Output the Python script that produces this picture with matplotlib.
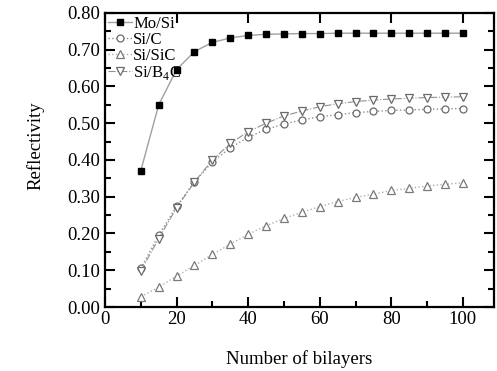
import numpy as np
import matplotlib
matplotlib.use('Agg')
import matplotlib.pyplot as plt
from matplotlib.ticker import MultipleLocator

plt.rcParams['font.family'] = ['Liberation Serif', 'DejaVu Serif']
plt.rcParams['mathtext.fontset'] = 'custom'
plt.rcParams['mathtext.rm'] = 'Liberation Serif'

# Anzahl der Doppelschichten
n_bilayers = [10, 15, 20, 25, 30, 35, 40, 45, 50, 55, 60, 65, 70, 75, 80, 85, 90, 95, 100]

# Reflektivitaet der einzelnen Schichtsysteme
r_mosi = [0.371, 0.550, 0.646, 0.695, 0.720, 0.732, 0.739, 0.742, 0.743, 0.744,
          0.744, 0.745, 0.745, 0.745, 0.745, 0.745, 0.745, 0.745, 0.745]
r_sic = [0.105, 0.195, 0.274, 0.340, 0.395, 0.433, 0.462, 0.483, 0.498, 0.509,
         0.518, 0.523, 0.529, 0.532, 0.535, 0.536, 0.538, 0.539, 0.540]
r_sisic = [0.028, 0.054, 0.084, 0.113, 0.143, 0.171, 0.198, 0.221, 0.241, 0.258,
           0.273, 0.287, 0.298, 0.307, 0.317, 0.323, 0.329, 0.334, 0.338]
r_sib4c = [0.098, 0.186, 0.270, 0.340, 0.400, 0.445, 0.477, 0.500, 0.520, 0.533,
           0.545, 0.553, 0.559, 0.563, 0.566, 0.568, 0.570, 0.571, 0.572]

labels = ['Mo/Si', 'Si/C', 'Si/SiC', r'Si/B$_4$C']

fig = plt.figure(figsize=(4.97, 3.71), dpi=100)
ax = fig.add_axes([0.2113, 0.1725, 0.7827, 0.7925])

ax.plot(n_bilayers, r_mosi, '-', color='#a0a0a0', lw=1.0, marker='s', ms=5,
        mfc='black', mec='black', label=labels[0])
ax.plot(n_bilayers, r_sic, ':', color='#909090', lw=1.0, marker='o', ms=5,
        mfc='white', mec='#6a6a6a', mew=0.9, label=labels[1])
ax.plot(n_bilayers, r_sisic, ':', color='#b0b0b0', lw=1.0, marker='^', ms=5.5,
        mfc='white', mec='#7a7a7a', mew=0.9, label=labels[2])
ax.plot(n_bilayers, r_sib4c, '-.', color='#909090', lw=0.8, marker='v', ms=5.5,
        mfc='white', mec='#6a6a6a', mew=0.9, label=labels[3])

ax.set_xlim(0, 108.7)
ax.set_ylim(0, 0.8)
ax.xaxis.set_major_locator(MultipleLocator(20))
ax.xaxis.set_minor_locator(MultipleLocator(10))
ax.yaxis.set_major_locator(MultipleLocator(0.1))
ax.yaxis.set_minor_locator(MultipleLocator(0.05))
ax.yaxis.set_major_formatter(plt.FormatStrFormatter('%.2f'))

ax.tick_params(which='both', direction='in', labelsize=13.5, width=1.5)
ax.tick_params(which='major', length=7, right=True, top=True)
ax.tick_params(which='minor', length=4, right=True)
ax.tick_params(axis='x', which='minor', top=False)
ax.tick_params(axis='x', pad=3)
for s in ax.spines.values():
    s.set_linewidth(1.6)

ax.set_xlabel('Number of bilayers', fontsize=13.5, labelpad=16)
ax.set_ylabel('Reflectivity', fontsize=13.5)
ax.yaxis.set_label_coords(-0.155, 0.55)

ax.legend(loc='upper left', frameon=False, fontsize=12, handlelength=1.4,
          handletextpad=0.1, labelspacing=0.0, borderaxespad=0.05,
          borderpad=0.15, markerscale=1.0)

fig.savefig('out.png', dpi=100)
